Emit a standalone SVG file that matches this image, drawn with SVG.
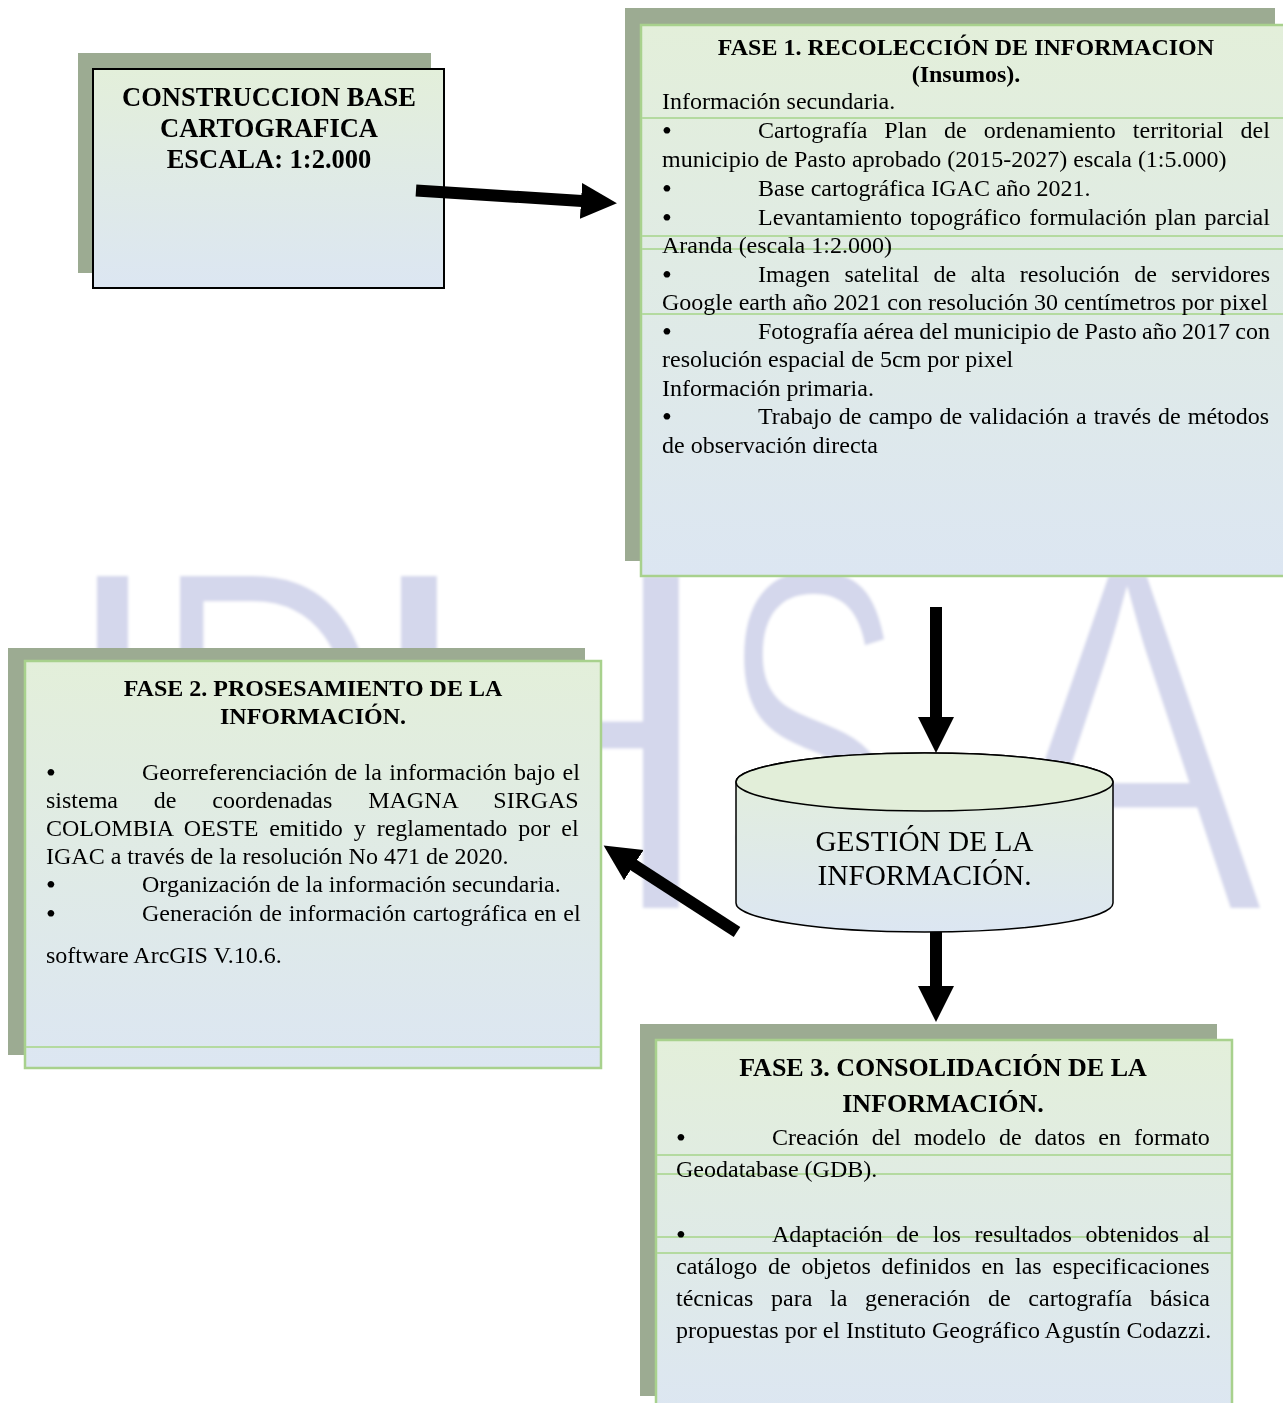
<svg xmlns="http://www.w3.org/2000/svg" width="1283" height="1403" viewBox="0 0 1283 1403">
  <defs>
    <linearGradient id="boxFill" x1="0" y1="0" x2="0" y2="1">
      <stop offset="0" stop-color="#e3efda"/>
      <stop offset="1" stop-color="#dce6f2"/>
    </linearGradient>
    <linearGradient id="markFill" gradientUnits="userSpaceOnUse" x1="0" y1="560" x2="0" y2="930">
      <stop offset="0" stop-color="#d4d7ec"/>
      <stop offset="0.6" stop-color="#d8ddee"/>
      <stop offset="1" stop-color="#e6edf4"/>
    </linearGradient>
    <filter id="soft" x="-5%" y="-5%" width="110%" height="110%">
      <feGaussianBlur stdDeviation="1.5"/>
    </filter>
    <marker id="head" markerUnits="userSpaceOnUse" markerWidth="38" markerHeight="38" refX="1" refY="18" orient="auto">
      <path d="M0,0 L36,18 L0,36 Z" fill="#000"/>
    </marker>
  </defs>
  <style>
    .t { font-family: "Liberation Serif", "Times New Roman", serif; font-size: 24px; fill: #000; }
    .b { font-weight: bold; }
    .c { text-anchor: middle; }
    .bl { font-size: 28px; }
    .big { font-size: 26.5px; }
    .h3 { font-size: 26px; }
    .cyl { font-size: 29.3px; }
    .shadow { fill: #9cab92; }
    .box { fill: url(#boxFill); stroke: #a8d18d; stroke-width: 2.5; }
    .rule { stroke: #b4daa0; stroke-width: 2; fill: none; }
    .mark { font-family: "Liberation Sans", Arial, sans-serif; font-size: 500px; fill: url(#markFill); stroke: #ffffff; stroke-width: 12; }
    .arrow { stroke: #000; stroke-width: 12; fill: none; marker-end: url(#head); }
  </style>

  <rect width="1283" height="1403" fill="#ffffff"/>

  <!-- pale letter mark behind the chart -->
  <g id="watermark" filter="url(#soft)">
    <text class="mark" transform="translate(50,914) scale(0.9,1)">I</text>
    <text class="mark" transform="translate(148,914) scale(0.68,1)">D</text>
    <text class="mark" transform="translate(352,914) scale(1.04,1)">H</text>
    <text class="mark" transform="translate(719,914) scale(0.56,1)">S</text>
    <text class="mark" transform="translate(985,914) scale(0.85,1)">A</text>
  </g>

  <g id="node-base">
    <rect class="shadow" x="78" y="53" width="353" height="220"/>
    <rect x="93" y="69" width="351" height="219" fill="url(#boxFill)" stroke="#000" stroke-width="2"/>
    <text class="t b c big" x="269" y="106">CONSTRUCCION BASE</text>
    <text class="t b c big" x="269" y="137">CARTOGRAFICA</text>
    <text class="t b c big" x="269" y="168">ESCALA: 1:2.000</text>
  </g>

  <g id="node-fase1">
    <rect class="shadow" x="625" y="8" width="650" height="553"/>
    <rect class="box" x="641" y="25" width="660" height="551"/>
    <path class="rule" d="M642,118 H1283 M642,236 H1283 M642,249 H1283 M642,314 H1283"/>
    <text class="t b c" x="966" y="55">FASE 1. RECOLECCIÓN DE INFORMACION</text>
    <text class="t b c" x="966" y="82">(Insumos).</text>
    <text class="t" x="662" y="109">Información secundaria.</text>
    <text class="t bl" x="662" y="140">•</text>
    <text class="t" x="758" y="138" word-spacing="11.08">Cartografía Plan de ordenamiento territorial del</text>
    <text class="t" x="662" y="167">municipio de Pasto aprobado (2015-2027) escala (1:5.000)</text>
    <text class="t bl" x="662" y="198">•</text>
    <text class="t" x="758" y="196">Base cartográfica IGAC año 2021.</text>
    <text class="t bl" x="662" y="227">•</text>
    <text class="t" x="758" y="225" word-spacing="2.35">Levantamiento topográfico formulación plan parcial</text>
    <text class="t" x="662" y="253">Aranda (escala 1:2.000)</text>
    <text class="t bl" x="662" y="284">•</text>
    <text class="t" x="758" y="282" word-spacing="8.47">Imagen satelital de alta resolución de servidores</text>
    <text class="t" x="662" y="310">Google earth año 2021 con resolución 30 centímetros por pixel</text>
    <text class="t bl" x="662" y="341">•</text>
    <text class="t" x="758" y="339" word-spacing="-0.65">Fotografía aérea del municipio de Pasto año 2017 con</text>
    <text class="t" x="662" y="367">resolución espacial de 5cm por pixel</text>
    <text class="t" x="662" y="396">Información primaria.</text>
    <text class="t bl" x="662" y="426">•</text>
    <text class="t" x="758" y="424" word-spacing="1.01">Trabajo de campo de validación a través de métodos</text>
    <text class="t" x="662" y="453">de observación directa</text>
  </g>

  <g id="node-fase2">
    <rect class="shadow" x="8" y="648" width="577" height="407"/>
    <rect class="box" x="25" y="661" width="576" height="407"/>
    <path class="rule" d="M26,1047 H600"/>
    <text class="t b c" x="313" y="696">FASE 2. PROSESAMIENTO DE LA</text>
    <text class="t b c" x="313" y="724">INFORMACIÓN.</text>
    <text class="t bl" x="46" y="782">•</text>
    <text class="t" x="142" y="780" word-spacing="1.36">Georreferenciación de la información bajo el</text>
    <text class="t" x="46" y="808" word-spacing="29.85">sistema de coordenadas MAGNA SIRGAS</text>
    <text class="t" x="46" y="836" word-spacing="5.0">COLOMBIA OESTE emitido y reglamentado por el</text>
    <text class="t" x="46" y="864">IGAC a través de la resolución No 471 de 2020.</text>
    <text class="t bl" x="46" y="894">•</text>
    <text class="t" x="142" y="892">Organización de la información secundaria.</text>
    <text class="t bl" x="46" y="923">•</text>
    <text class="t" x="142" y="921" word-spacing="0.7">Generación de información cartográfica en el</text>
    <text class="t" x="46" y="963">software ArcGIS V.10.6.</text>
  </g>

  <g id="node-gestion">
    <path d="M736,782 L736,903 A188.5,29 0 0 0 1113,903 L1113,782 A188.5,29 0 0 0 736,782 Z" fill="url(#boxFill)" stroke="#000" stroke-width="1.5"/>
    <ellipse cx="924.5" cy="782" rx="188.5" ry="29" fill="#e2eed9" stroke="#000" stroke-width="1.5"/>
    <text class="t c cyl" x="924.5" y="851">GESTIÓN DE LA</text>
    <text class="t c cyl" x="924.5" y="885">INFORMACIÓN.</text>
  </g>

  <g id="node-fase3">
    <rect class="shadow" x="640" y="1024" width="577" height="372"/>
    <rect class="box" x="656" y="1040" width="576" height="380"/>
    <path class="rule" d="M657,1155 H1231 M657,1174 H1231 M657,1237 H1231 M657,1253 H1231"/>
    <text class="t b c h3" x="943" y="1076">FASE 3. CONSOLIDACIÓN DE LA</text>
    <text class="t b c h3" x="943" y="1112">INFORMACIÓN.</text>
    <text class="t bl" x="676" y="1147">•</text>
    <text class="t" x="772" y="1145" word-spacing="7.0">Creación del modelo de datos en formato</text>
    <text class="t" x="676" y="1177">Geodatabase (GDB).</text>
    <text class="t bl" x="676" y="1244">•</text>
    <text class="t" x="772" y="1242" word-spacing="7.74">Adaptación de los resultados obtenidos al</text>
    <text class="t" x="676" y="1274" word-spacing="4.75">catálogo de objetos definidos en las especificaciones</text>
    <text class="t" x="676" y="1306" word-spacing="11.7">técnicas para la generación de cartografía básica</text>
    <text class="t" x="676" y="1338">propuestas por el Instituto Geográfico Agustín Codazzi.</text>
  </g>

  <g id="connectors">
    <line class="arrow" x1="416" y1="190.5" x2="582" y2="201" stroke-width="10"/>
    <line class="arrow" x1="936" y1="607" x2="936" y2="718"/>
    <line class="arrow" x1="936" y1="932" x2="936" y2="987"/>
    <line class="arrow" x1="737" y1="932" x2="633" y2="864.6"/>
  </g>
</svg>
